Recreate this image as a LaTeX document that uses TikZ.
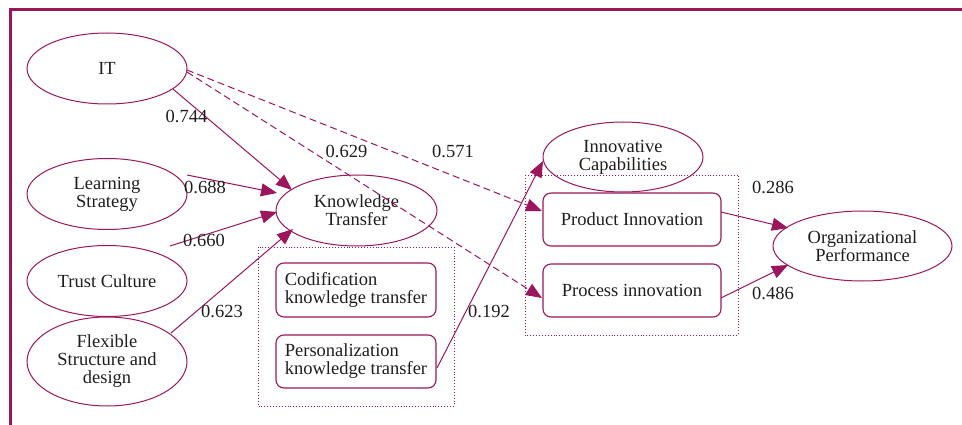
\documentclass[tikz,border=0pt]{standalone}
\usepackage{fontspec}
\setmainfont{Liberation Serif}
\usetikzlibrary{shapes.geometric,arrows.meta,calc}
\definecolor{plum}{RGB}{155,22,92}
\definecolor{ink}{RGB}{30,30,30}
\tikzset{
  construct/.style={ellipse,draw=plum,line width=1pt,inner sep=0pt,outer sep=0pt,
    align=center,text=ink,font=\fontsize{18.5}{18}\selectfont,
    minimum width=160pt,minimum height=71pt},
  dimbox/.style={rectangle,rounded corners=8pt,draw=plum,line width=1.1pt,inner sep=0pt,
    outer sep=0pt,text=ink,font=\fontsize{18.5}{18}\selectfont,
    minimum width=160pt,minimum height=54pt},
  group/.style={draw=plum,dotted,line width=0.9pt},
  path/.style={draw=plum,line width=1pt,-{Triangle[length=16pt,width=13pt]}},
  dpath/.style={path,dash pattern=on 7pt off 4pt},
  coef/.style={text=ink,font=\fontsize{18.5}{18}\selectfont,inner sep=0pt}
}
\begin{document}
\begin{tikzpicture}[x=1pt,y=-1pt]
\useasboundingbox (0,0) rectangle (962,425);
% frame rules
\draw[plum,line width=3pt] (9,10) -- (962,10);
\draw[plum,line width=3pt] (10,9) -- (10,425);

% grouping boxes
\draw[group] (258,247) rectangle (454,406);
\draw[group] (525,175) rectangle (738,335);

% antecedents
\node[construct] (IT) at (107,68.5) {IT};
\node[construct] (LS) at (107,194) {Learning\\Strategy};
\node[construct] (TC) at (107,281) {Trust Culture};
\node[construct,minimum height=89pt] (FS) at (107,361.5) {Flexible\\Structure and\\design};

% knowledge transfer
\node[construct,minimum width=161pt] (KT) at (356.5,210.5) {Knowledge\\Transfer};
\node[dimbox,align=left] (CK) at (356,290) {Codification\\knowledge transfer};
\node[dimbox,align=left,minimum height=53pt] (PK) at (356,361.5) {Personalization\\knowledge transfer};

% innovation
\node[construct,minimum height=70pt] (IC) at (623,157) {Innovative\\Capabilities};
\node[dimbox,minimum width=178pt,minimum height=53pt] (PdI) at (632,219.5) {Product Innovation};
\node[dimbox,minimum width=178pt,minimum height=53pt] (PcI) at (632,290.5) {Process innovation};

% outcome
\node[construct,minimum width=179pt,minimum height=70pt] (OP) at (862.5,246) {Organizational\\Performance};

% paths
\draw[path] ($(IT)+(66,20.5)$) -- ($(KT)+(-64.5,-20.5)$);
\draw[path] ($(LS)+(80,-19)$) -- ($(KT)+(-79.5,-17.5)$);
\draw[path] ($(TC)+(63,-35)$) -- ($(KT)+(-79.5,1.5)$);
\draw[path] ($(FS)+(64,-28.5)$) -- ($(KT)+(-63.5,18.5)$);
\draw[dpath] ($(IT)+(80,1.5)$) -- ($(PdI)+(-90,-8.5)$);
\draw[dpath] ($(IT)+(80,3.5)$) -- ($(PcI)+(-90,7.5)$);
\draw[path] ($(PK)+(81,6.5)$) -- ($(IC)+(-80,4)$);
\draw[path] ($(PdI)+(89,-7.5)$) -- ($(OP)+(-74.5,-18)$);
\draw[path] ($(PcI)+(89,7.5)$) -- ($(OP)+(-74.5,19)$);

% path coefficients
\node[coef] (c1) at (186.5,116) {0.744};
\node[coef] (c2) at (205,187) {0.688};
\node[coef] (c3) at (204,240) {0.660};
\node[coef] (c4) at (222,311) {0.623};
\node[coef] (c5) at (346.5,151) {0.629};
\node[coef] (c6) at (453,151) {0.571};
\node[coef] (c7) at (489,311) {0.192};
\node[coef] (c8) at (773,187) {0.286};
\node[coef] (c9) at (773,293) {0.486};
\end{tikzpicture}
\end{document}
